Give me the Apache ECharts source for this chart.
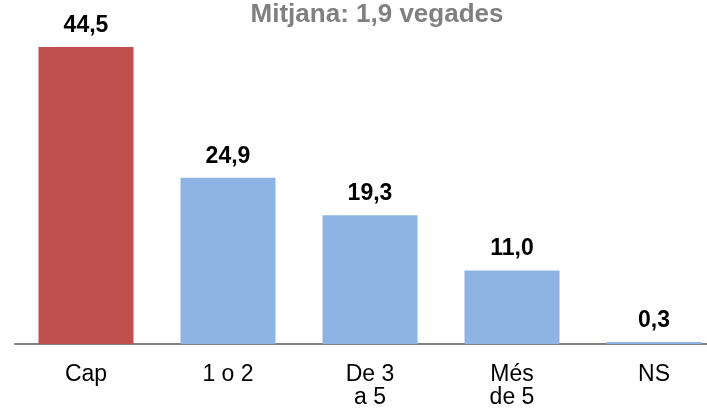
<!DOCTYPE html>
<html>
<head>
<meta charset="utf-8">
<script src="https://cdn.jsdelivr.net/npm/echarts@6/dist/echarts.min.js"></script>
<style>
  html, body { margin: 0; padding: 0; background: #fff; }
  #chart { width: 707px; height: 410px; }
</style>
</head>
<body>
<div id="chart"></div>
<script>
  // categories and values
  const categories = ['Cap', '1 o 2', 'De 3\na 5', 'Més\nde 5', 'NS']
  const values = [44.5, 24.9, 19.3, 11.0, 0.3]
  const barColors = ['#C0504D', '#8EB4E3', '#8EB4E3', '#8EB4E3', '#8EB4E3']
  const titleText = 'Mitjana: 1,9 vegades'

  const chart = echarts.init(document.getElementById('chart'))

  const option = {
    animation: false,
    title: {
      text: titleText,
      left: 372,
      top: -3,
      textAlign: 'center',
      textStyle: {
        fontFamily: 'Liberation Sans, Arial, sans-serif',
        fontSize: 26,
        fontWeight: 'bold',
        color: '#808080'
      }
    },
    grid: {
      left: 15,
      top: 47,
      width: 710,
      height: 297,
      outerBoundsMode: 'none'
    },
    xAxis: {
      type: 'category',
      data: categories,
      axisLine: { lineStyle: { color: '#808080', width: 2 } },
      axisTick: { show: false },
      axisLabel: {
        interval: 0,
        margin: 19,
        fontFamily: 'Liberation Sans, Arial, sans-serif',
        fontSize: 23,
        lineHeight: 23,
        color: '#000'
      }
    },
    yAxis: {
      type: 'value',
      min: 0,
      max: 44.5,
      show: false,
      splitLine: { show: false }
    },
    series: [
      {
        type: 'bar',
        barWidth: 95,
        data: values.map((v, i) => ({ value: v, itemStyle: { color: barColors[i] } })),
        label: {
          show: true,
          position: 'top',
          distance: 10,
          formatter: p => p.value.toFixed(1).replace('.', ','),
          fontFamily: 'Liberation Sans, Arial, sans-serif',
          fontSize: 23,
          fontWeight: 'bold',
          color: '#000'
        }
      }
    ]
  }

  chart.setOption(option)
</script>
</body>
</html>
